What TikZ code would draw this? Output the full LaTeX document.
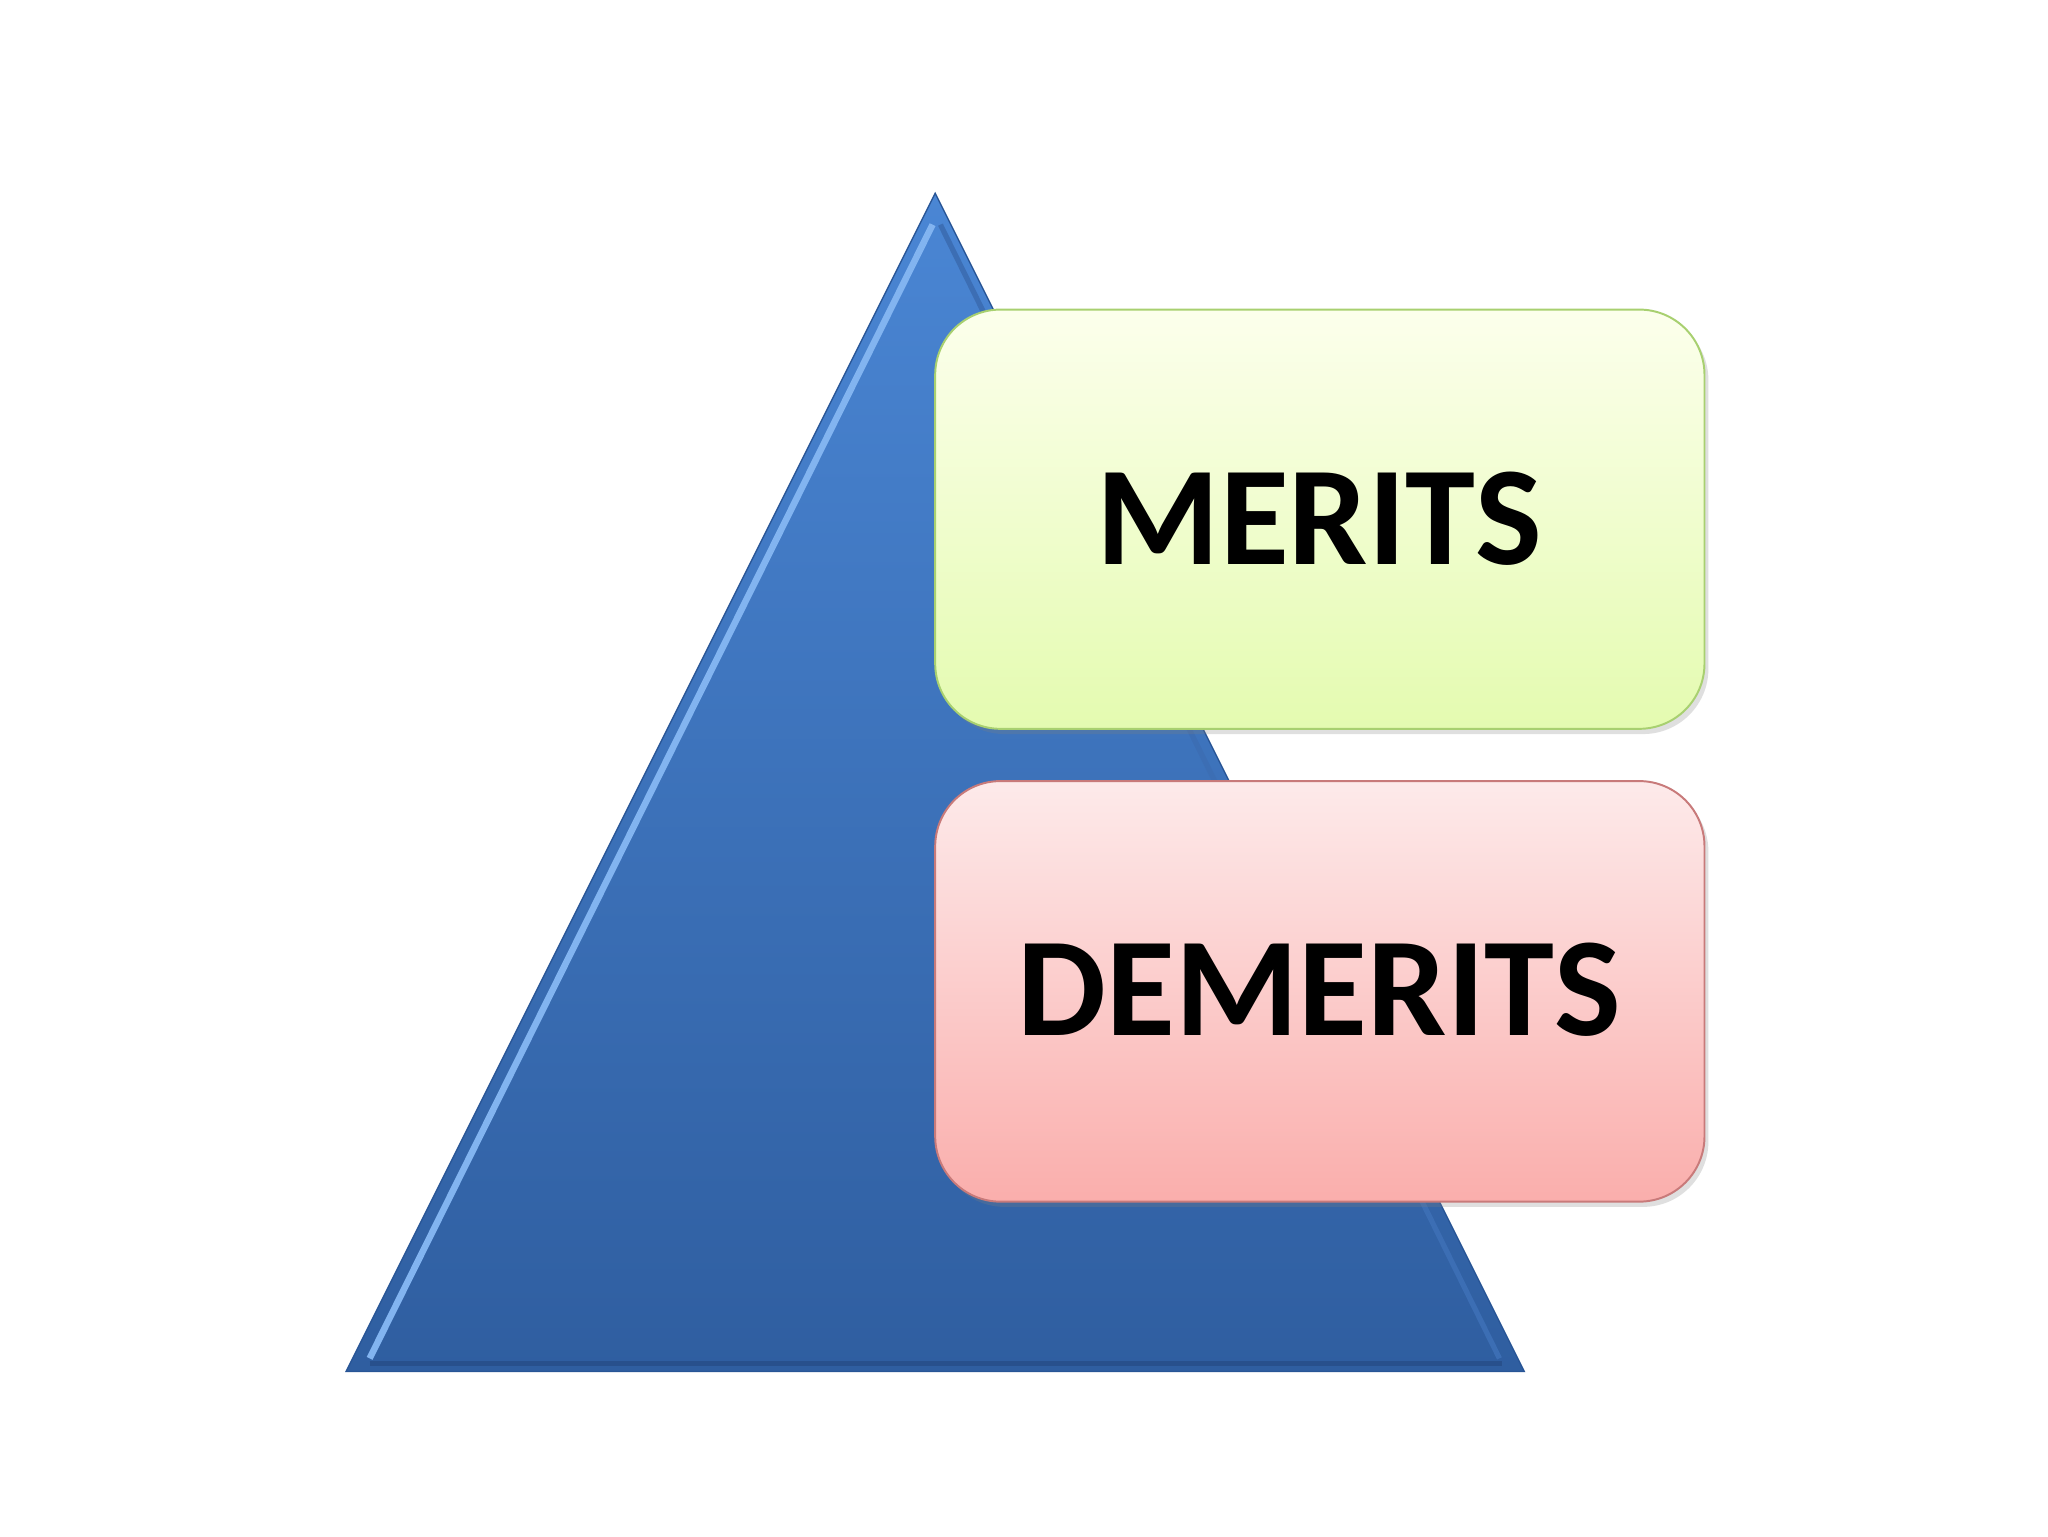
\documentclass[tikz,border=0pt]{standalone}
\usepackage{fontspec}
\setmainfont{Carlito}
\usetikzlibrary{shadows}
\definecolor{tritop}{RGB}{74,134,212}
\definecolor{tribot}{RGB}{47,94,160}
\definecolor{triedge}{RGB}{40,85,150}
\definecolor{trihi}{RGB}{130,180,240}
\definecolor{trimid}{RGB}{60,110,180}
\definecolor{tridark}{RGB}{40,80,140}
\definecolor{gtop}{RGB}{252,255,236}
\definecolor{gbot}{RGB}{228,251,176}
\definecolor{gedge}{RGB}{168,208,112}
\definecolor{rtop}{RGB}{253,234,234}
\definecolor{rbot}{RGB}{250,174,172}
\definecolor{redge}{RGB}{200,122,122}
\begin{document}
\begin{tikzpicture}[x=1pt,y=-1pt,
  boxstyle/.style={rounded corners=50pt, line width=1.5pt, drop shadow={shadow xshift=3pt,shadow yshift=-4pt,opacity=0.25}},
  lbl/.style={font=\fontsize{108}{110}\selectfont\bfseries, text=black}]
\useasboundingbox (0,0) rectangle (1568,1176);
\fill[white] (0,0) rectangle (1568,1176);
\coordinate (apex) at (716,148);
\coordinate (bl) at (265,1050);
\coordinate (br) at (1167,1050);
\shade[top color=tritop, bottom color=tribot, draw=triedge, line width=1pt]
  (apex) -- (br) -- (bl) -- cycle;
\draw[trihi, line width=5pt] (714,172) -- (283,1040);
\draw[trimid, line width=4pt] (720,172) -- (1148,1040);
\draw[tridark, line width=4pt] (283,1044) -- (1150,1044);
\shade[boxstyle, top color=gtop, bottom color=gbot, draw=gedge]
  (716,237) rectangle (1305,558);
\node[lbl] (merits) at (1010,397) {MERITS};
\shade[boxstyle, top color=rtop, bottom color=rbot, draw=redge]
  (716,598) rectangle (1305,920);
\node[lbl] (demerits) at (1010,758) {DEMERITS};
\end{tikzpicture}
\end{document}
